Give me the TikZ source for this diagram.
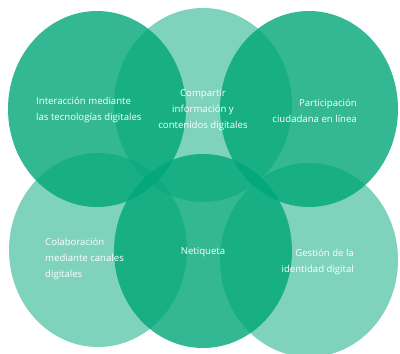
\documentclass[tikz,border=0pt]{standalone}
\usepackage{fontspec}
\setmainfont{Open Sans}
\begin{document}
\begin{tikzpicture}[x=1pt,y=-1pt,
  base/.style={draw=none,fill={rgb,255:red,0;green,166;blue,120}},
  strong/.style={base,fill opacity=0.8},
  soft/.style={base,fill opacity=0.5},
  lbl/.style={text=white,font=\fontsize{9.6}{16}\selectfont,inner sep=0pt}]
\useasboundingbox (0,0) rectangle (400,354);
% six overlapping ellipses
\fill[soft]   (203,105) ellipse [x radius=89,y radius=97];
\fill[soft]   (98,250)  ellipse [x radius=89,y radius=97];
\fill[soft]   (309,260) ellipse [x radius=89,y radius=97];
\fill[strong] (97,109)  ellipse [x radius=89,y radius=98];
\fill[strong] (309,109) ellipse [x radius=89,y radius=98];
\fill[strong] (203,251) ellipse [x radius=89,y radius=97];
% labels
\node[lbl,align=left,anchor=west]  (inter) at (36,110) {Interacción mediante\\las tecnologías digitales};
\node[lbl,align=center]            (comp)  at (203,110) {Compartir\\información y\\contenidos digitales};
\node[lbl,align=right,anchor=east] (part)  at (357,111) {Participación\\ciudadana en línea};
\node[lbl,align=left,anchor=west]  (cola)  at (45,259) {Colaboración\\mediante canales\\digitales};
\node[lbl]                         (neti)  at (203,252) {Netiqueta};
\node[lbl,align=right,anchor=east] (gest)  at (354,262) {Gestión de la\\identidad digital};
\end{tikzpicture}
\end{document}
